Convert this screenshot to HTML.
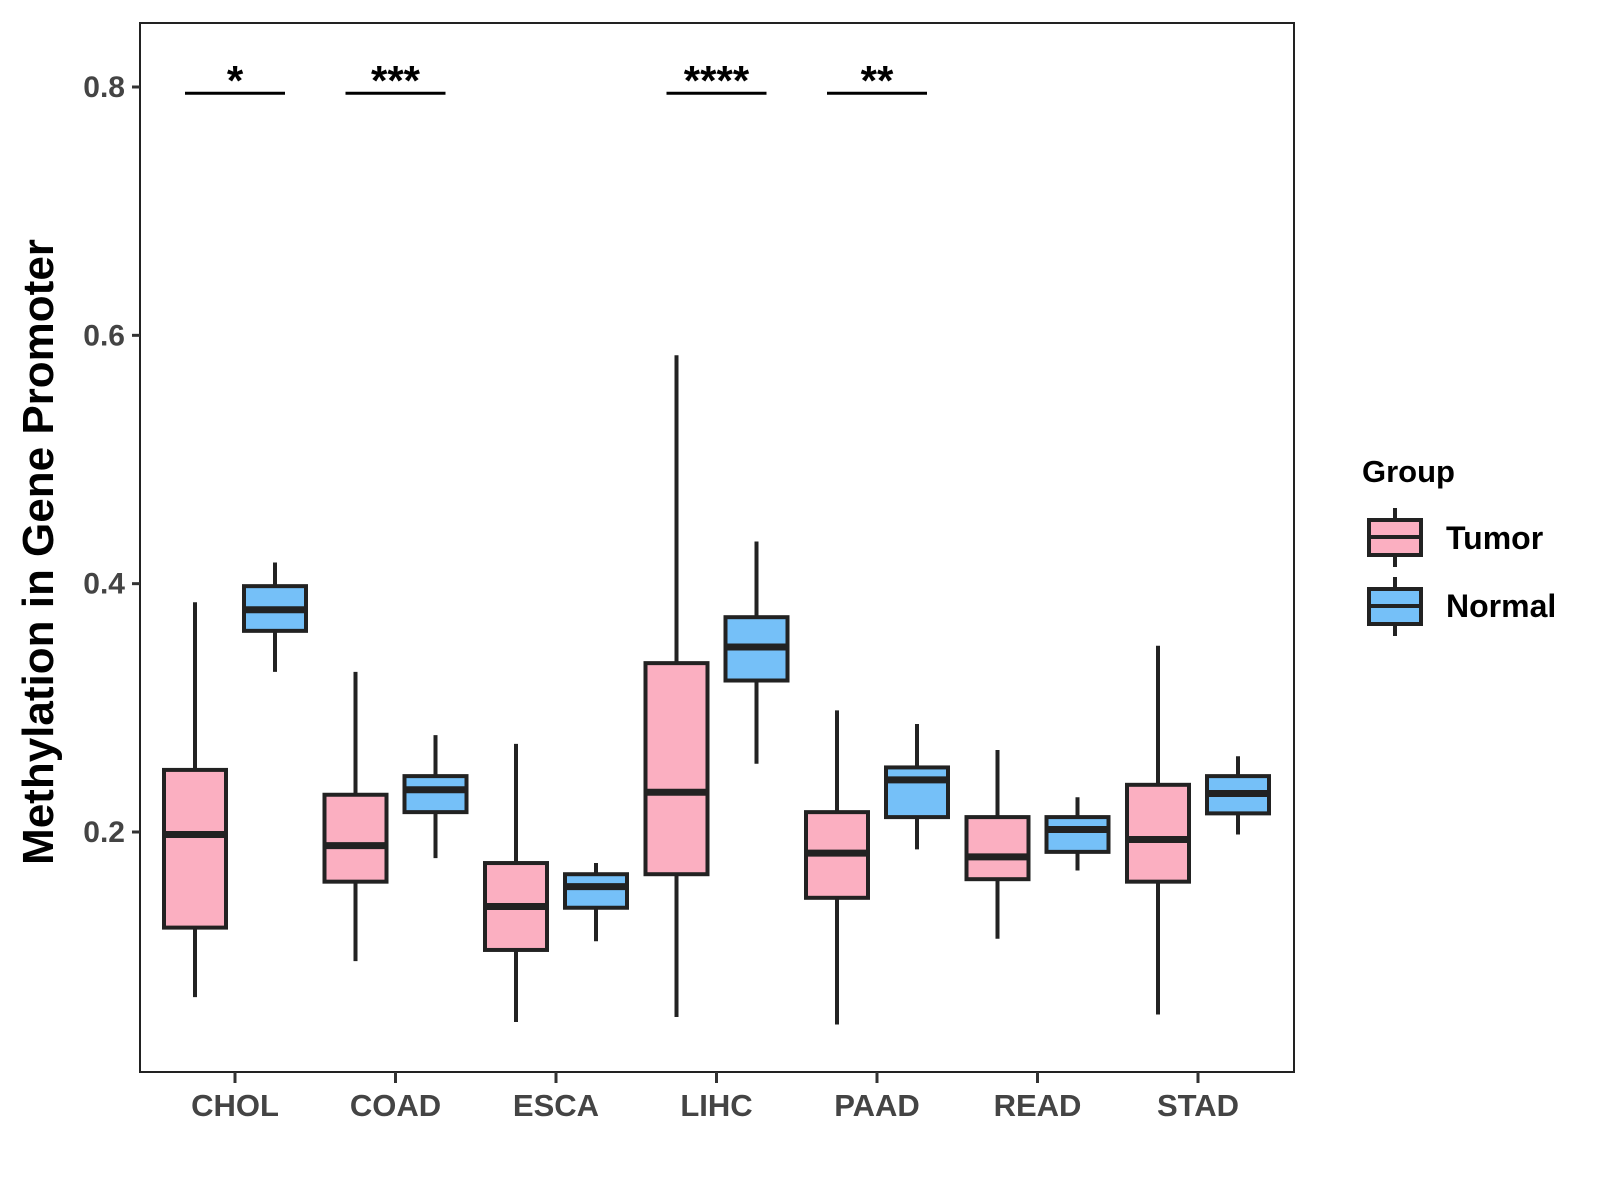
<!DOCTYPE html>
<html><head><meta charset="utf-8"><style>
html,body{margin:0;padding:0;background:#fff;}
svg{display:block;font-family:"Liberation Sans",sans-serif;font-weight:bold;}
</style></head><body>
<svg id="chart" width="1600" height="1200" xmlns="http://www.w3.org/2000/svg">
<rect x="140" y="23" width="1154" height="1049" fill="#fff" stroke="#222" stroke-width="2"/>
<g id="axes"></g><g id="boxes"></g><g id="sig"></g>
<text transform="translate(53,552) rotate(-90)" text-anchor="middle" font-size="44" fill="#000">Methylation in Gene Promoter</text>
<g>
<text x="1362" y="482" font-size="31" fill="#000">Group</text>
<g>
<line x1="1395" y1="508" x2="1395" y2="567" stroke="#222" stroke-width="4"/>
<rect x="1369" y="520" width="52" height="35" fill="#FBAFC1" stroke="#222" stroke-width="4"/>
<line x1="1369" y1="537" x2="1421" y2="537" stroke="#222" stroke-width="4"/>
<text x="1446" y="549" font-size="32" fill="#000">Tumor</text></g>
<g>
<line x1="1395" y1="577" x2="1395" y2="636" stroke="#222" stroke-width="4"/>
<rect x="1369" y="589" width="52" height="35" fill="#75C0F8" stroke="#222" stroke-width="4"/>
<line x1="1369" y1="606" x2="1421" y2="606" stroke="#222" stroke-width="4"/>
<text x="1446" y="617" font-size="32" fill="#000">Normal</text></g>
</g>
</svg>
<script>
const categories=["CHOL","COAD","ESCA","LIHC","PAAD","READ","STAD"];
// [min,q1,median,q3,max]
const tumorStats=[[0.067,0.123,0.198,0.250,0.385],[0.096,0.160,0.189,0.230,0.329],[0.047,0.105,0.140,0.175,0.271],[0.051,0.166,0.232,0.336,0.584],[0.045,0.147,0.183,0.216,0.298],[0.114,0.162,0.180,0.212,0.266],[0.053,0.160,0.194,0.238,0.350]];
const normalStats=[[0.329,0.362,0.379,0.398,0.417],[0.179,0.216,0.234,0.245,0.278],[0.112,0.139,0.156,0.166,0.175],[0.255,0.322,0.349,0.373,0.434],[0.186,0.212,0.242,0.252,0.287],[0.169,0.184,0.202,0.212,0.228],[0.198,0.215,0.231,0.245,0.261]];
const yTicks=[0.2,0.4,0.6,0.8];
const yTickLabels=["0.2","0.4","0.6","0.8"];
const sigCats=["CHOL","COAD","LIHC","PAAD"];
const sigLabels=["*","***","****","**"];
const sigLevel=0.795;

const NS="http://www.w3.org/2000/svg";
function y(v){return 832-(v-0.2)*(745/0.6);}
function x(i){return 235+i*160.5;}
function mk(tag,attrs,parent){const e=document.createElementNS(NS,tag);for(const k in attrs)e.setAttribute(k,attrs[k]);parent.appendChild(e);return e;}
const axes=document.getElementById('axes'),boxes=document.getElementById('boxes'),sig=document.getElementById('sig');
yTicks.forEach((t,i)=>{
  const l=mk('line',{x1:132,x2:140,y1:y(t),y2:y(t),stroke:'#333','stroke-width':3},axes);
  
  
  const tx=mk('text',{x:125,y:y(t)+10,'text-anchor':'end','font-size':30,fill:'#444'},axes);
  tx.textContent=yTickLabels[i];
  
  
});
categories.forEach((c,i)=>{
  const l=mk('line',{x1:x(i),x2:x(i),y1:1072,y2:1083,stroke:'#333','stroke-width':3},axes);
  
  
  const tx=mk('text',{x:x(i),y:1116,'text-anchor':'middle','font-size':31,fill:'#444'},axes);
  tx.textContent=c;
  
  
});
function drawBox(cx,s,fill,name){
  const g=mk('g',{},boxes);
  
  
  mk('line',{x1:cx,x2:cx,y1:y(s[0]),y2:y(s[4]),stroke:'#222','stroke-width':4},g);
  mk('rect',{x:cx-31,y:y(s[3]),width:62,height:y(s[1])-y(s[3]),fill:fill,stroke:'#222','stroke-width':4},g);
  mk('line',{x1:cx-31,x2:cx+31,y1:y(s[2]),y2:y(s[2]),stroke:'#222','stroke-width':7},g);
}
categories.forEach((c,i)=>{
  drawBox(x(i)-40,tumorStats[i],'#FBAFC1','box-tumor-'+c.toLowerCase());
  drawBox(x(i)+40,normalStats[i],'#75C0F8','box-normal-'+c.toLowerCase());
});
sigCats.forEach((c,k)=>{
  const i=categories.indexOf(c);
  const l=mk('line',{x1:x(i)-50,x2:x(i)+50,y1:y(sigLevel),y2:y(sigLevel),stroke:'#000','stroke-width':3},sig);
  
  
  const t=mk('text',{x:x(i),y:y(sigLevel)+2,'text-anchor':'middle','font-size':42,fill:'#000'},sig);
  t.textContent=sigLabels[k];
  
  
});
</script>
</body></html>
